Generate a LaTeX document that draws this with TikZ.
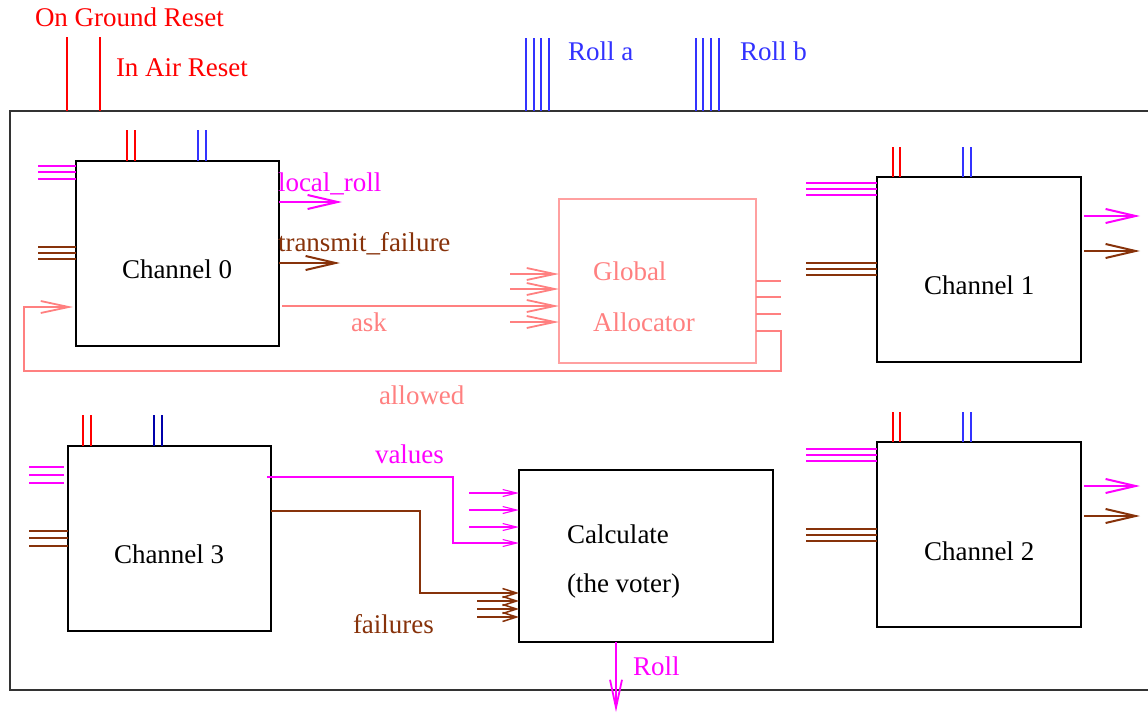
\documentclass[tikz,border=0pt]{standalone}
\usepackage{fontspec}
\setmainfont{Liberation Serif}
\usetikzlibrary{arrows.meta}
\definecolor{redc}{RGB}{255,0,0}
\definecolor{bluec}{RGB}{50,50,255}
\definecolor{dbluec}{RGB}{0,0,170}
\definecolor{magc}{RGB}{255,0,255}
\definecolor{brownc}{RGB}{135,50,10}
\definecolor{pinkc}{RGB}{255,128,128}
\definecolor{pinkbox}{RGB}{255,160,160}
\begin{document}
\begin{tikzpicture}[x=1pt,y=-1pt,
  every node/.style={font=\fontsize{27}{31}\selectfont, inner sep=0pt, outer sep=0pt},
  txt/.style={anchor=base west},
  boxn/.style={draw=black, line width=1.1pt, anchor=north west},
  stub/.style={line width=1.2pt},
  bigarr/.style={line width=1.2pt, -{Straight Barb[length=30pt,width=14pt,line width=2pt]}},
  midarr/.style={line width=1.2pt, -{Straight Barb[length=28pt,width=12pt,line width=1.8pt]}},
  smallarr/.style={line width=1.2pt, -{Straight Barb[length=14pt,width=7pt,line width=1.1pt]}},
  brarr/.style={line width=1.2pt, -{Straight Barb[length=14pt,width=9pt,line width=1.5pt]}}
]
\useasboundingbox (0,0) rectangle (1148,712);
\clip (0,0) rectangle (1148,712);

% outer frame
\node[draw=black!80, line width=1.2pt, anchor=north west, minimum width=1150pt, minimum height=579pt] (frame) at (10,111) {};

% top inputs
\node[txt, text=redc] (ogr) at (35,27) {On Ground Reset};
\node[txt, text=redc] (iar) at (116,76) {In Air Reset};
\coordinate (og) at (67,37);
\coordinate (ia) at (100,37);
\draw[redc, stub] (og) -- (og |- frame.north);
\draw[redc, stub] (ia) -- (ia |- frame.north);
\node[txt, text=bluec] (rolla) at (568,60) {Roll a};
\node[txt, text=bluec] (rollb) at (740,60) {Roll b};
\foreach \x in {526,534,541,549,696,703,711,719}
  \draw[bluec, stub] (\x,38) -- (\x,111);

% boxes
\node[boxn, minimum width=203pt, minimum height=185pt] (ch0) at (76,161) {};
\node[boxn, minimum width=204pt, minimum height=185pt] (ch1) at (877,177) {};
\node[boxn, minimum width=204pt, minimum height=185pt] (ch2) at (877,442) {};
\node[boxn, minimum width=203pt, minimum height=185pt] (ch3) at (68,446) {};
\node[boxn, minimum width=254pt, minimum height=172pt] (calc) at (519,470) {};
\node[draw=pinkbox, line width=1.1pt, anchor=north west, minimum width=197pt, minimum height=164pt] (ga) at (559,199) {};

% box texts
\node[txt] (t0) at (122,278) {Channel 0};
\node[txt] (t1) at (924,294) {Channel 1};
\node[txt] (t2) at (924,560) {Channel 2};
\node[txt] (t3) at (114,563) {Channel 3};
\node[txt] (tc1) at (567,543) {Calculate};
\node[txt] (tc2) at (567,592) {(the voter)};
\node[txt, text=pinkc] (tg1) at (593,280) {Global};
\node[txt, text=pinkc] (tg2) at (593,331) {Allocator};

% channel stubs (top)
\foreach \x in {127,135} \draw[redc, stub] (\x,130) -- (\x,161);
\foreach \x in {198,206} \draw[bluec, stub] (\x,130) -- (\x,161);
\foreach \x in {893,900} {\draw[redc, stub] (\x,147) -- (\x,177); \draw[redc, stub] (\x,412) -- (\x,442);}
\foreach \x in {963,971} {\draw[bluec, stub] (\x,147) -- (\x,177); \draw[bluec, stub] (\x,412) -- (\x,442);}
\foreach \x in {83,91} \draw[redc, stub] (\x,415) -- (\x,446);
\foreach \x in {154,162} \draw[dbluec, stub] (\x,415) -- (\x,446);

% channel stubs (left)
\foreach \y in {166,172,179} \draw[magc, stub] (38,\y) -- (ch0.west |- 0,\y);
\foreach \y in {247,253,259} \draw[brownc, stub] (38,\y) -- (ch0.west |- 0,\y);
\foreach \y in {183,189,195} \draw[magc, stub] (806,\y) -- (ch1.west |- 0,\y);
\foreach \y in {263,269,275} \draw[brownc, stub] (806,\y) -- (ch1.west |- 0,\y);
\foreach \y in {449,455,461} \draw[magc, stub] (806,\y) -- (ch2.west |- 0,\y);
\foreach \y in {529,535,541} \draw[brownc, stub] (806,\y) -- (ch2.west |- 0,\y);
\foreach \y in {467,475,483} \draw[magc, stub] (29,\y) -- (64,\y);
\foreach \y in {531,538,546} \draw[brownc, stub] (29,\y) -- (ch3.west |- 0,\y);

% channel outputs
\coordinate (lr) at (342,202);
\coordinate (tf) at (340,263);
\draw[magc, bigarr] (ch0.east |- lr) -- (lr);
\draw[brownc, bigarr] (ch0.east |- tf) -- (tf);
\node[txt, text=magc] (llr) at (278,191) {local\_roll};
\node[txt, text=brownc] (ltf) at (278,251) {transmit\_failure};
\foreach \y/\c in {216/magc,251/brownc} \draw[\c, bigarr] (1084,\y) -- (1140,\y);
\foreach \y/\c in {486/magc,516/brownc} \draw[\c, bigarr] (1084,\y) -- (1140,\y);

% global allocator
\draw[pinkc, midarr] (282,306) -- (ga.west |- 0,306);
\node[txt, text=pinkc] (lask) at (351,331) {ask};
\foreach \y in {274,289,322} \draw[pinkc, midarr] (510,\y) -- (ga.west |- 0,\y);
\foreach \y in {281,297,314} \draw[pinkc, stub] (ga.east |- 0,\y) -- (781,\y);
\draw[pinkc, midarr] (ga.east |- 0,331) -- (781,331) -- (781,371) -- (24,371) -- (24,307) -- (73,307);
\node[txt, text=pinkc] (lallowed) at (379,404) {allowed};

% calculate inputs
\draw[magc, smallarr] (267,477) -- (453,477) -- (453,543) -- (calc.west |- 0,543);
\foreach \y in {493,510,527} \draw[magc, smallarr] (469,\y) -- (calc.west |- 0,\y);
\node[txt, text=magc] (lvalues) at (375,463) {values};
\draw[brownc, brarr] (ch3.east |- 0,511) -- (420,511) -- (420,593) -- (calc.west |- 0,593);
\foreach \y in {601,609,617} \draw[brownc, brarr] (477,\y) -- (calc.west |- 0,\y);
\node[txt, text=brownc] (lfail) at (353,633) {failures};

% roll output
\coordinate (rollend) at (616,712);
\draw[magc, midarr] (calc.south -| rollend) -- (rollend);
\node[txt, text=magc] (lroll) at (633,675) {Roll};
\end{tikzpicture}
\end{document}
